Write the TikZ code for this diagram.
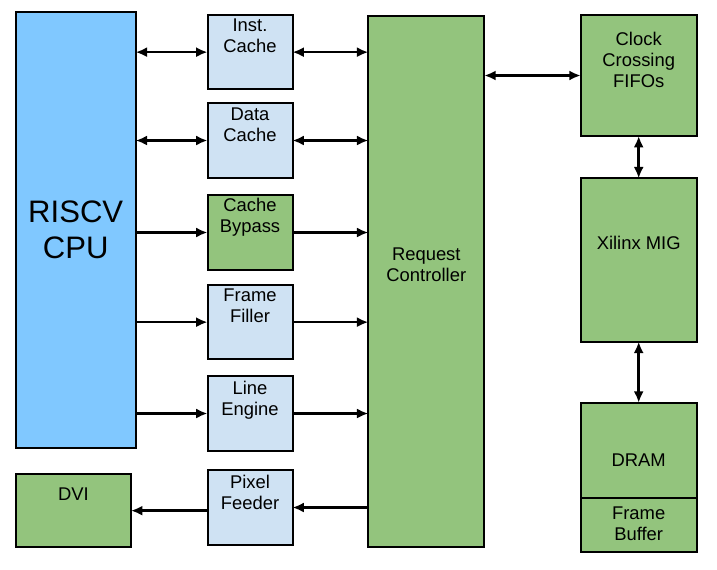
\documentclass[tikz,border=0pt]{standalone}
\usepackage{fontspec}
\setmainfont{Liberation Sans}
\usetikzlibrary{arrows.meta}
\definecolor{cpublue}{HTML}{80C8FF}
\definecolor{lblue}{HTML}{CFE2F3}
\definecolor{lgreen}{HTML}{93C47D}
\begin{document}
\begin{tikzpicture}[x=0.75pt,y=-0.75pt,
  box/.style={draw=black, line width=1.5pt, rectangle, inner sep=0pt, outer sep=0pt},
  bluebox/.style={box, fill=lblue, minimum width=63.75pt, minimum height=55.9pt},
  lbl/.style={inner sep=0pt, outer sep=0pt, align=center, font=\fontsize{13.8}{15.75}\selectfont},
  conn/.style={line width=2pt, -{Latex[length=8.5pt,width=7.5pt]}},
  bconn/.style={line width=2pt, {Latex[length=8.5pt,width=7.5pt]}-{Latex[length=8.5pt,width=7.5pt]}}]
\useasboundingbox[fill=white] (0,0) rectangle (717,569);

% boxes
\node[box, fill=cpublue, minimum width=90pt, minimum height=327.5pt] (cpu) at (75.7,230) {};
\node[box, fill=lgreen, minimum width=86.5pt, minimum height=55pt] (dvi) at (73.35,510.65) {};
\node[bluebox] (inst) at (250,52.15) {};
\node[bluebox] (data) at (250,140.5) {};
\node[bluebox, fill=lgreen] (bypass) at (250,232.5) {};
\node[bluebox] (filler) at (250,322.15) {};
\node[bluebox] (line) at (250,413.5) {};
\node[bluebox] (pixel) at (250,507.5) {};
\node[box, fill=lgreen, minimum width=87pt, minimum height=398.7pt] (rc) at (426.3,281.5) {};
\node[box, fill=lgreen, minimum width=87pt, minimum height=90.75pt] (clock) at (638.7,75.5) {};
\node[box, fill=lgreen, minimum width=87pt, minimum height=122.55pt] (mig) at (638.7,260) {};
\node[box, fill=lgreen, minimum width=87pt, minimum height=71.7pt] (dram) at (638.7,450.5) {};
\node[box, fill=lgreen, minimum width=87pt, minimum height=40.05pt] (fb) at (638.7,525) {};

% labels
\node[lbl, anchor=north, font=\fontsize{23.3}{27}\selectfont] (cpuT) at (75.7,200.7) {RISCV\\CPU};
\node[lbl, anchor=base] (dviT) at (73.35,500.7) {DVI};
\node[lbl, anchor=north] (instT) at (250,19.3) {Inst.\\Cache};
\node[lbl, anchor=north] (dataT) at (250,107.7) {Data\\Cache};
\node[lbl, anchor=north] (bypassT) at (250,198.5) {Cache\\Bypass};
\node[lbl, anchor=north] (fillerT) at (250,289.3) {Frame\\Filler};
\node[lbl, anchor=north] (lineT) at (250,380.7) {Line\\Engine};
\node[lbl, anchor=north] (pixelT) at (250,475) {Pixel\\Feeder};
\node[lbl, anchor=north] (rcT) at (426.3,248.3) {Request\\Controller};
\node[lbl, anchor=north] (clockT) at (638.7,31.7) {Clock\\Crossing\\FIFOs};
\node[lbl, anchor=base] (migT) at (638.7,249.3) {Xilinx MIG};
\node[lbl, anchor=base] (dramT) at (638.7,466.7) {DRAM};
\node[lbl, anchor=north] (fbT) at (638.7,506.7) {Frame\\Buffer};

% connectors
\draw[bconn] (cpu.east |- inst.west) -- (inst.west);
\draw[bconn] (inst.east) -- (rc.west |- inst.east);
\draw[bconn] (cpu.east |- data.west) -- (data.west);
\draw[bconn] (data.east) -- (rc.west |- data.east);
\draw[conn] (cpu.east |- bypass.west) -- (bypass.west);
\draw[conn] (bypass.east) -- (rc.west |- bypass.east);
\draw[conn] (cpu.east |- filler.west) -- (filler.west);
\draw[conn] (filler.east) -- (rc.west |- filler.east);
\draw[conn] (cpu.east |- line.west) -- (line.west);
\draw[conn] (line.east) -- (rc.west |- line.east);
\draw[conn] (rc.west |- pixel.east) -- (pixel.east);
\draw[conn] (pixel.west |- dvi.east) -- (dvi.east);
\draw[bconn] (rc.east |- clock.west) -- (clock.west);
\draw[bconn] (clock.south) -- (mig.north);
\draw[bconn] (mig.south) -- (dram.north);
\end{tikzpicture}
\end{document}
